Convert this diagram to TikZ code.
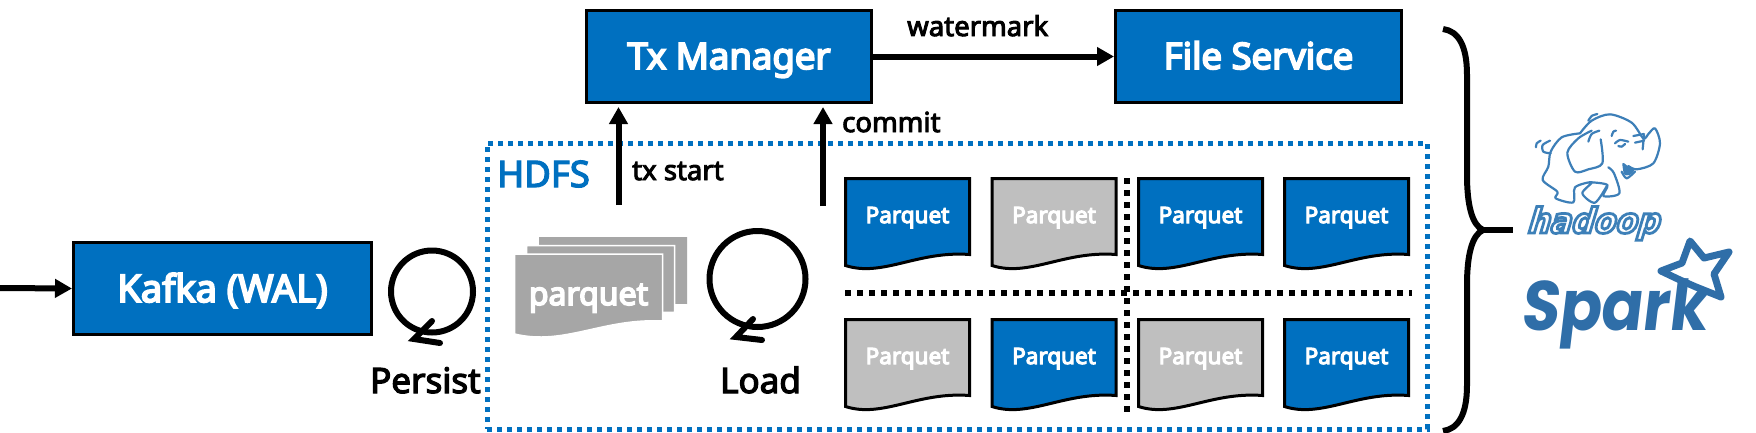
\documentclass[tikz,border=0pt]{standalone}
\usepackage{fontspec}
\usetikzlibrary{arrows.meta,calc}
\setmainfont{Noto Sans}
\newfontfamily\labelfont[FakeBold=3.5]{Noto Sans}
\newfontfamily\boldfont[FakeBold=5]{Noto Sans}
\newfontfamily\hadoopfont[FakeSlant=0.3,FakeBold=8,FakeStretch=0.9]{DejaVu Sans}
\newfontfamily\sparkfont[FakeSlant=0.12,FakeStretch=0.88]{Poppins}
\definecolor{mainblue}{HTML}{0070C0}
\definecolor{docgrey}{HTML}{BFBFBF}
\definecolor{stackgrey}{HTML}{A6A6A6}
\definecolor{logoblue}{HTML}{3D7FB8}
\definecolor{sparkblue}{HTML}{2F6EA8}
\tikzset{
  mainbox/.style={draw=black,line width=3pt,fill=mainblue,text=white,inner sep=0pt,
    minimum height=92pt,font=\boldfont\fontsize{36.5}{36.5}\selectfont,text depth=0pt},
  arr/.style={line width=6pt,-{Triangle[length=17pt,width=18pt]}},
  lbl/.style={anchor=base west,inner sep=0pt,font=\labelfont\fontsize{27.5}{27.5}\selectfont},
  biglbl/.style={anchor=base west,inner sep=0pt,font=\labelfont\fontsize{35}{35}\selectfont},
  doctext/.style={inner sep=0pt,text=white,font=\boldfont\fontsize{22.5}{22.5}\selectfont,anchor=base},
  docline/.style={draw=black,line width=3pt},
  loopc/.style={draw=black,line width=6pt,circle,inner sep=0pt},
  barb/.style={line width=6pt,line cap=round,miter limit=10},
  sepline/.style={line width=6pt,dash pattern=on 6pt off 6pt},
  logoline/.style={draw=logoblue,line width=2.2pt,line join=round,line cap=round},
}
\newcommand{\docpath}[2]{(#1,#2) -- ++(124,0) -- ++(0,76) .. controls +(-52,-4) and +(37,12) .. ++(-124,11) -- cycle}
\newcommand{\stackpath}[2]{(#1,#2) -- ++(148,0) -- ++(0,67) .. controls +(-60,-3) and +(50,12) .. ++(-148,13) -- cycle}
\begin{document}
\begin{tikzpicture}[x=1pt,y=-1pt]
\useasboundingbox (0,0) rectangle (1756,432);
\fill[white] (0,0) rectangle (1756,432);
% HDFS frame
\node[draw=mainblue,line width=5pt,dash pattern=on 5pt off 5pt,minimum width=940pt,minimum height=286pt,inner sep=0pt] (hdfs) at (957,286) {};
\node[anchor=base west,inner sep=0pt,text=mainblue,font=\labelfont\fontsize{36.5}{36.5}\selectfont] (hdfslabel) at (497,187) {HDFS};
% main boxes
\node[mainbox,minimum width=298pt,text height=27pt,font=\boldfont\fontsize{38}{38}\selectfont] (kafka) at (222.5,288.5) {Kafka (WAL)};
\node[mainbox,minimum width=285pt,text height=25pt] (tx) at (729,56.5) {Tx Manager};
\node[mainbox,minimum width=286pt,text height=25pt] (fs) at (1258.5,56.5) {File Service};
% connectors
\coordinate (inflow) at (0,288);
\coordinate (txstart) at (618.5,205);
\coordinate (commit) at (823,206);
\draw[arr] (inflow) -- (kafka.west);
\draw[arr] (tx.east) -- (fs.west);
\draw[arr,shorten >=3pt] (txstart) -- (txstart |- tx.south);
\draw[arr,shorten >=3pt] (commit) -- (commit |- tx.south);
\node[lbl] (wmlabel) at (907,36) {watermark};
\node[lbl] (commitlabel) at (842,132) {commit};
\node[lbl] (txlabel) at (632,180) {tx start};
% loops
\node[loopc,minimum size=82pt] (persistloop) at (432,291.5) {};
\coordinate (pa) at (432,321);
\coordinate (pt) at (414,339);
\coordinate (pb) at (440,343);
\draw[barb] (pa) -- (pt) -- (pb);
\node[biglbl] (persist) at (370,393) {Persist};
\node[loopc,minimum size=96pt] (loadloop) at (757.5,279) {};
\coordinate (la) at (753,319);
\coordinate (lt) at (736,337);
\coordinate (lb) at (762,340);
\draw[barb] (la) -- (lt) -- (lb);
\node[biglbl] (load) at (720,393) {Load};
% parquet stack
\fill[stackgrey] \stackpath{539}{237};
\draw[white,line width=1.5pt,fill=stackgrey] \stackpath{526.5}{245.5};
\draw[white,line width=1.5pt,fill=stackgrey] \stackpath{514.5}{254};
\node[doctext,font=\boldfont\fontsize{32}{32}\selectfont] (stacklabel) at (588.5,305) {parquet};
% separators
\coordinate (sl) at (845,293);
\coordinate (sr) at (1412,293);
\coordinate (st) at (1127,178);
\coordinate (sb) at (1127,412);
\draw[sepline] (sl) -- (sr);
\draw[sepline] (st) -- (sb);
% parquet documents
\foreach \x/\y/\c/\n in {845.5/178.5/mainblue/a,992/178.5/docgrey/b,1138.5/178.5/mainblue/c,1284.5/178.5/mainblue/d,
                         845.5/319.5/docgrey/e,992/319.5/mainblue/f,1138.5/319.5/docgrey/g,1284.5/319.5/mainblue/h}{
  \draw[docline,fill=\c] \docpath{\x}{\y};
  \node[doctext] (doc\n) at ($(\x,\y)+(62,44.5)$) {Parquet};
}
% brace
\coordinate (bt) at (1443,29);
\coordinate (bm) at (1483,230);
\coordinate (bb) at (1443,431);
\coordinate (bc) at (1513,230);
\draw[line width=6pt] (bt) .. controls (1458,31) and (1467,45) .. (1467,75) -- (1467,175) .. controls (1467,205) and (1472,225) .. (bm) .. controls (1472,235) and (1467,255) .. (1467,285) -- (1467,385) .. controls (1467,415) and (1458,429) .. (bb);
\draw[line width=6pt] (bm) -- (bc);
% hadoop elephant
\begin{scope}[shift={(1520,110)},x=0.3333pt,y=-0.3333pt]
  \draw[logoline] plot[smooth] coordinates {(180,70) (125,82) (92,125) (85,170) (68,210) (112,245) (107,265) (160,277) (165,232) (215,217) (187,250) (225,278) (262,225)};
  \draw[logoline] plot[smooth] coordinates {(215,217) (262,225) (250,258) (298,250) (282,190) (265,172)};
  \draw[logoline] plot[smooth] coordinates {(180,70) (215,32) (270,13) (335,38) (370,85) (385,72) (405,55) (420,100) (400,160) (350,178) (325,168)};
  \draw[logoline] plot[smooth] coordinates {(242,88) (247,160) (205,178) (165,185) (142,128) (175,85) (215,62)};
  \draw[logoline] plot[smooth] coordinates {(205,32) (215,18) (232,12)};
  \draw[logoline] plot[smooth] coordinates {(205,95) (215,72) (238,62)};
  \draw[logoline] plot[smooth] coordinates {(92,130) (70,125) (68,105) (90,92)};
  \draw[logoline] plot[smooth] coordinates {(48,112) (50,100) (62,92)};
  \draw[logoline] plot[smooth] coordinates {(275,78) (280,65) (288,62)};
  \draw[logoline] plot[smooth] coordinates {(285,100) (300,90) (325,95)};
  \draw[logoline] plot[smooth] coordinates {(295,108) (305,110) (315,102)};
  \draw[logoline] (340,78) -- (372,72);
  \draw[logoline] (345,98) -- (372,92);
  \draw[logoline] (368,118) -- (372,75);
  \draw[logoline,fill=logoblue] (310,162) .. controls (320,170) and (330,178) .. (340,180) .. controls (335,192) and (320,196) .. (314,190) -- cycle;
  \draw[logoline] plot[smooth] coordinates {(305,185) (320,205) (345,185)};
\end{scope}
\node[anchor=base west,inner sep=0pt,font=\hadoopfont\fontsize{35}{35}\selectfont\bfseries] (hadoop) at (1526,233) {\color{white}\special{pdf:code 0.24 0.5 0.72 RG}hadoop};
% spark
\draw[draw=sparkblue,line width=7pt,line join=round,fill=white] (1690,241) -- (1704,258) -- (1729,252) -- (1714,274) -- (1721,297) -- (1696,287) -- (1680,280) -- (1661,271) -- (1682,263) -- cycle;
\node[anchor=base west,inner sep=0pt,text=sparkblue,font=\sparkfont\fontsize{70}{70}\selectfont\bfseries] (spark) at (1520,330) {Spark};
\end{tikzpicture}
\end{document}
